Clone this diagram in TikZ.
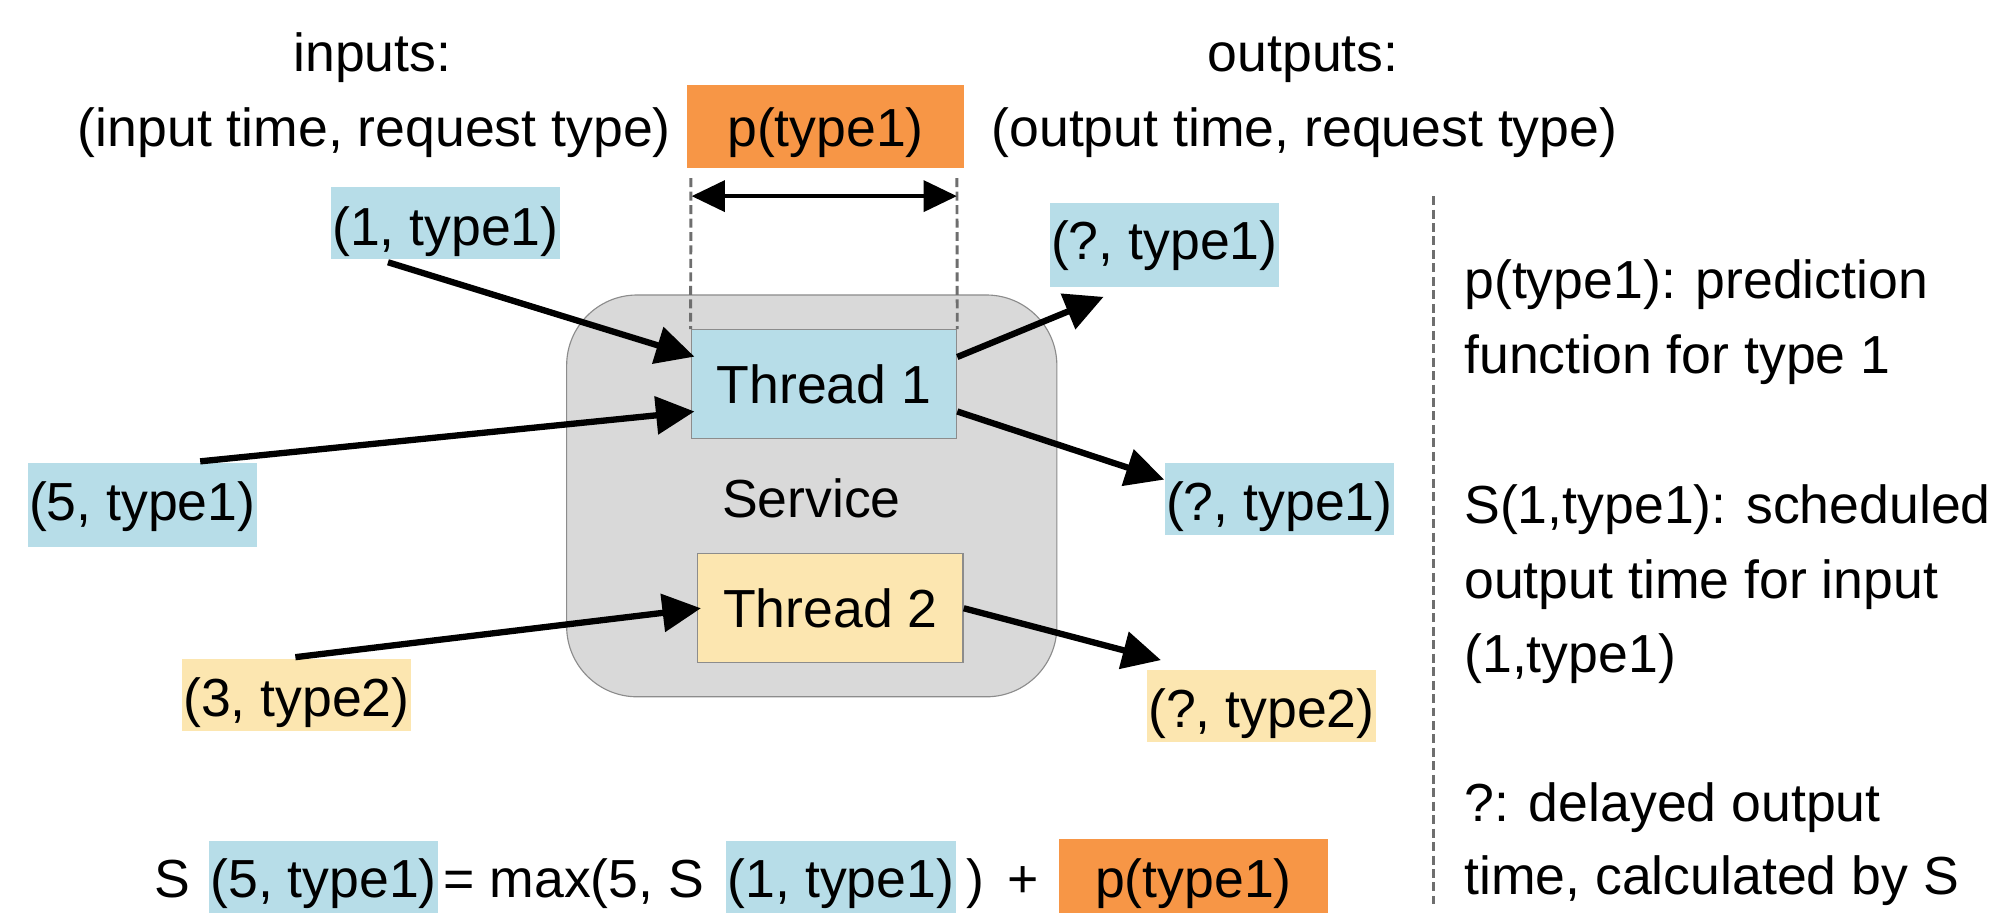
\documentclass[tikz,border=0pt]{standalone}
\usepackage{fontspec}
\setmainfont{Liberation Sans}
\usetikzlibrary{arrows.meta,calc}
\definecolor{hlblue}{HTML}{B7DDE8}
\definecolor{hlyellow}{HTML}{FCE6B0}
\definecolor{hlorange}{HTML}{F79646}
\definecolor{svcgray}{HTML}{D9D9D9}
\definecolor{edgegray}{HTML}{8C8C8C}
\definecolor{dashgray}{HTML}{6E6E6E}
\begin{document}
\begin{tikzpicture}[x=0.02cm, y=-0.02cm, font=\fontsize{23.8pt}{28pt}\selectfont,
  hl/.style={inner xsep=0.02cm, inner ysep=0pt, minimum width=3.58cm},
  shortbox/.style={text height=0.9cm, text depth=0.22cm},
  tallbox/.style={text height=0.89cm, text depth=0.42cm},
  thread/.style={draw=edgegray, line width=0.6pt, minimum width=4.14cm, minimum height=1.7cm, inner sep=0pt},
  flow/.style={line width=2.8pt, -{Triangle[length=0.6cm,width=0.58cm]}},
  spanarrow/.style={line width=2pt, {Triangle[length=0.52cm,width=0.48cm]}-{Triangle[length=0.52cm,width=0.48cm]}},
  guide/.style={draw=dashgray, line width=1.3pt, dash pattern=on 0.14cm off 0.07cm},
  lbl/.style={inner sep=0pt}
]
\useasboundingbox (0,0) rectangle (1568,712);
\clip (0,0) rectangle (1568,712);

% top labels
\node[lbl, anchor=base] (inlbl) at (290.5,56) {inputs:};
\node[lbl, anchor=base] (inform) at (292,114.4) {(input time, request type)};
\node[lbl, anchor=base] (outlbl) at (1016.6,56) {outputs:};
\node[lbl, anchor=base] (outform) at (1017.6,114.4) {(output time, request type)};
\node[fill=hlorange, inner sep=0pt, minimum width=4.32cm, text height=0.96cm, text depth=0.34cm] (ptop) at (644,98.9) {p(type1)};

% service
\node[fill=svcgray, draw=edgegray, line width=0.5pt, rounded corners=1.1cm, minimum width=7.65cm, minimum height=6.27cm, inner sep=0pt] (svc) at (633.25,386.85) {};
\node[lbl, anchor=base] (svclbl) at (633,404) {Service};
\node[thread, fill=hlblue] (t1) at (642.75,299.75) {Thread 1};
\node[thread, fill=hlyellow] (t2) at (647.8,474.5) {Thread 2};

% span of p(type1)
\coordinate (gl) at (539,139);
\coordinate (gr) at (746.5,139);
\draw[guide] (gl) -- (t1.north west);
\draw[guide] (gr) -- (t1.north east);
\coordinate (sl) at (539.5,153);
\coordinate (sr) at (746.5,153);
\draw[spanarrow] (sl) -- (sr);

% requests
\node[hl, shortbox, fill=hlblue] (n1) at (347.5,174.25) {(1, type1)};
\node[hl, tallbox, fill=hlblue] (n5) at (111,394) {(5, type1)};
\node[hl, shortbox, fill=hlyellow] (n3) at (231.25,542) {(3, type2)};
\node[hl, tallbox, fill=hlblue] (o1) at (908.3,191) {(?, type1)\hspace{0.36cm}};
\node[hl, shortbox, fill=hlblue] (o2) at (998,389) {(?, type1)};
\node[hl, shortbox, fill=hlyellow] (o3) at (984,550.6) {(?, type2)};

% arrows
\draw[flow] ($(n1.south west)+(45,2)$) -- ($(t1.north west)+(3,21.5)$);
\draw[flow] ($(n5.north west)+(135,-1)$) -- ($(t1.west)+(3,21.25)$);
\draw[flow] ($(n3.north west)+(89,-1)$) -- ($(t2.west)+(3,0)$);
\draw[flow] ($(t1.east)+(0,-21.25)$) -- ($(o1.south west)+(42.4,7.5)$);
\draw[flow] ($(t1.east)+(0,21.25)$) -- ($(o2.north west)+(0,13.5)$);
\draw[flow] (t2.east) -- ($(o3.north west)+(11.5,-7.3)$);

% divider
\coordinate (dvt) at (1118,153);
\coordinate (dvb) at (1118,705);
\draw[guide] (dvt) -- (dvb);

% legend
\node[lbl, anchor=base west] (r1) at (1142,233) {p(type1): prediction};
\node[lbl, anchor=base west] (r2) at (1142,291) {function for type 1};
\node[lbl, anchor=base west] (r3) at (1142,408.5) {S(1,type1): scheduled};
\node[lbl, anchor=base west] (r4) at (1142,466.7) {output time for input};
\node[lbl, anchor=base west] (r5) at (1142,525) {(1,type1)};
\node[lbl, anchor=base west] (r6) at (1142,641) {?: delayed output};
\node[lbl, anchor=base west] (r7) at (1142,697.5) {time, calculated by S};

% formula
\node[lbl, anchor=base west] (fs) at (120,700.5) {S};
\node[hl, tallbox, fill=hlblue] (f1) at (252.5,688.7) {(5, type1)};
\node[lbl, anchor=base west] (fmax) at (345.6,700.5) {= max(5, S};
\node[hl, tallbox, fill=hlblue] (f2) at (656,688.7) {(1, type1)};
\node[lbl, anchor=base west] (fplus) at (753.3,700.5) {)\hspace{0.374cm}+};
\node[fill=hlorange, inner sep=0pt, minimum width=4.2cm, text height=0.92cm, text depth=0.42cm] (pbot) at (931,688) {p(type1)};
\end{tikzpicture}
\end{document}
